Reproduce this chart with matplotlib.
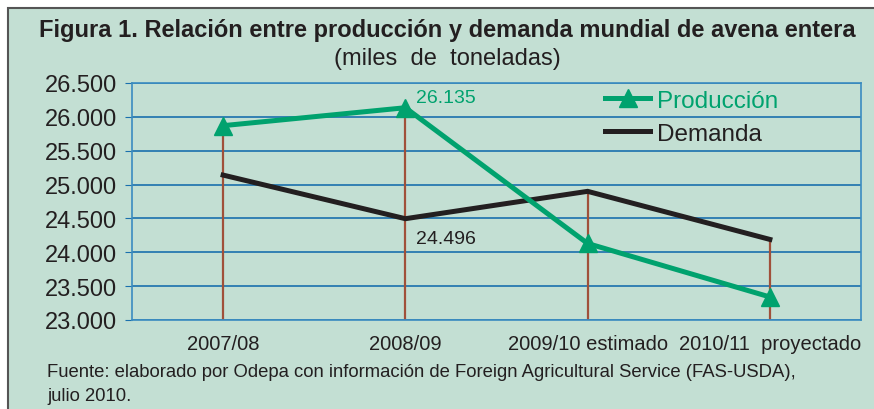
import matplotlib
matplotlib.use("Agg")
import matplotlib.pyplot as plt
from matplotlib.patches import Rectangle

# datos (miles de toneladas)
temporadas = ["2007/08", "2008/09", "2009/10 estimado", "2010/11  proyectado"]
produccion = [25870, 26135, 24130, 23340]
demanda = [25140, 24496, 24900, 24190]
y_ticks = [23000, 23500, 24000, 24500, 25000, 25500, 26000, 26500]
y_labels = ["23.000", "23.500", "24.000", "24.500", "25.000", "25.500", "26.000", "26.500"]

BG = "#c3dfd3"
GREEN = "#00a26e"
BLACK = "#231f20"
BROWN = "#a0503a"
BLUE = "#1a70ad"
SANS = ["Liberation Sans", "DejaVu Sans"]

fig = plt.figure(figsize=(8.74, 4.10), dpi=100)
fig.patch.set_facecolor("white")

# marco del recuadro
fig.patches.append(Rectangle((8 / 874, -0.05), 1.0, 1 - 9 / 410 + 0.05,
                             transform=fig.transFigure, facecolor=BG,
                             edgecolor="#555555", linewidth=1.5, zorder=-1))

ax = fig.add_axes([132 / 874, 1 - 321 / 410, (861 - 132) / 874, (321 - 84) / 410])
ax.set_zorder(1)
ax.set_facecolor(BG)
x = list(range(len(temporadas)))

# lineas verticales hasta el maximo de ambas series
for i in x:
    ax.plot([i, i], [23000, max(produccion[i], demanda[i])], color=BROWN,
            lw=1.6, zorder=2)

ax.plot(x, demanda, color=BLACK, lw=3.6, zorder=3, label="Demanda",
        solid_joinstyle="miter")
ax.plot(x, produccion, color=GREEN, lw=3.6, marker="^", markersize=13,
        zorder=4, label="Producción")

ax.set_xlim(-0.5, 3.5)
ax.set_ylim(23000, 26500)
ax.set_yticks(y_ticks)
ax.set_yticklabels(y_labels, family=SANS, fontsize=17, color=BLACK)
ax.set_xticks(x)
ax.set_xticklabels(temporadas, family=SANS, fontsize=14.5, color=BLACK)
ax.tick_params(axis="y", length=5, color=BLUE, pad=6)
ax.tick_params(axis="x", length=0, pad=10)
ax.grid(axis="y", color=BLUE, lw=1.2)
ax.set_axisbelow(True)
for s in ax.spines.values():
    s.set_color("#3b8cc0")
    s.set_linewidth(1.2)

ax.annotate("26.135", (1, produccion[1]), xytext=(8, 1),
            textcoords="offset points", color=GREEN, fontsize=14,
            family=SANS, va="bottom")
ax.annotate("24.496", (1, demanda[1]), xytext=(8, -8),
            textcoords="offset points", color=BLACK, fontsize=14,
            family=SANS, va="top")

h, l = ax.get_legend_handles_labels()
leg = ax.legend(h[::-1], l[::-1], loc="upper left",
                bbox_to_anchor=(0.649, 0.972), frameon=False,
                prop={"family": SANS, "size": 17.5},
                handlelength=1.85, handletextpad=0.3, labelspacing=0.45,
                borderaxespad=0, borderpad=0)
for t, c in zip(leg.get_texts(), [GREEN, BLACK]):
    t.set_color(c)

fig.text(447 / 874, 1 - 30 / 410, "Figura 1. Relación entre producción y demanda mundial de avena entera",
         ha="center", va="center", fontsize=17, fontweight="bold",
         family=SANS, color=BLACK)
fig.text(447 / 874, 1 - 59 / 410, "(miles  de  toneladas)", ha="center",
         va="center", fontsize=17, family=SANS, color=BLACK)
fig.text(47 / 874, 1 - 373 / 410,
         "Fuente: elaborado por Odepa con información de Foreign Agricultural Service (FAS-USDA),",
         ha="left", va="center", fontsize=13.3, family=SANS, color=BLACK)
fig.text(47 / 874, 1 - 397 / 410, "julio 2010.", ha="left", va="center",
         fontsize=13.3, family=SANS, color=BLACK)

fig.savefig("out.png", dpi=100, facecolor=fig.get_facecolor())
